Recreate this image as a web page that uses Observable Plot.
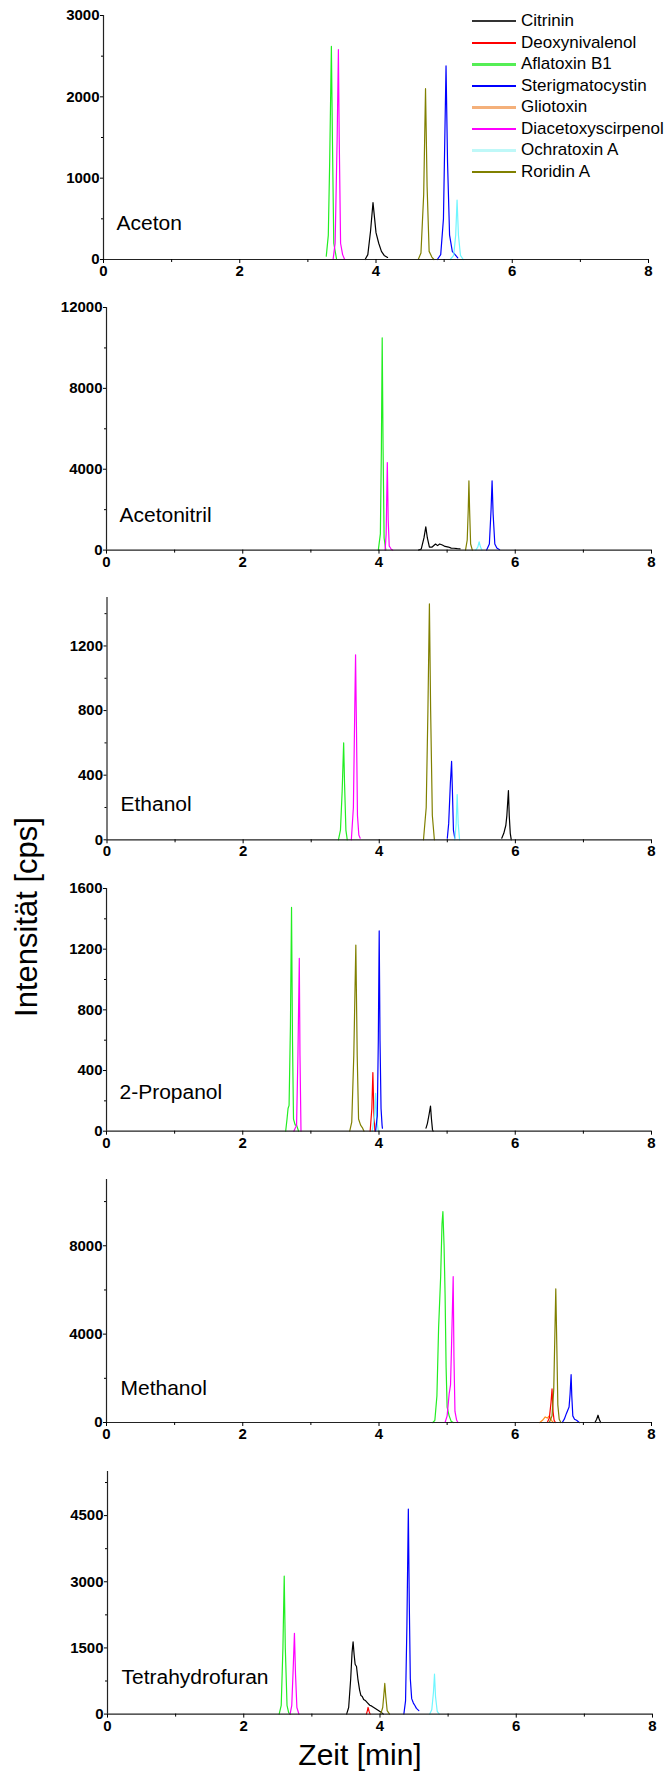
<!DOCTYPE html>
<html><head><meta charset="utf-8">
<script src="https://cdn.jsdelivr.net/npm/d3@7"></script>
<script src="https://cdn.jsdelivr.net/npm/@observablehq/plot@0.6"></script>
<style>
body{margin:0;background:#fff;}
#chart{position:relative;width:670px;height:1774px;font-family:"Liberation Sans",Arial,sans-serif;color:#000;overflow:hidden}
#chart svg{position:absolute;left:0;overflow:visible}
#chart svg g[aria-label$="tick label"] text{font-weight:bold}
.legrow{position:absolute;left:472px;height:20px;display:flex;align-items:center;font-size:17px;white-space:nowrap}
.legrow span.sw{display:inline-block;width:44px;margin-right:5px}
.ytitle{position:absolute;left:27px;top:917px;font-size:31px;line-height:36px;white-space:nowrap;transform:translate(-50%,-50%) rotate(-90deg)}
.xtitle{position:absolute;left:360px;top:1740px;font-size:30px;line-height:30px;white-space:nowrap;transform:translateX(-50%)}
</style></head>
<body><div id="chart"></div>
<script>
// ---- data ----
const compounds = ["Citrinin","Deoxynivalenol","Aflatoxin B1","Sterigmatocystin","Gliotoxin","Diacetoxyscirpenol","Ochratoxin A","Roridin A"];
const solvents = ["Aceton","Acetonitril","Ethanol","2-Propanol","Methanol","Tetrahydrofuran"];
const xTicks = [0,2,4,6,8];
const xMinorTicks = [1,3,5,7];
const yMax = [3000,12000,1500,1600,11000,5500];
const yTicks = [[0,1000,2000,3000],[0,4000,8000,12000],[0,400,800,1200],[0,400,800,1200,1600],[0,4000,8000],[0,1500,3000,4500]];
const yMinorTicks = [[500,1500,2500],[2000,6000,10000],[200,600,1000,1400],[200,600,1000,1400],[2000,6000,10000],[750,2250,3750,5250]];

// peaks: [compound, [[time (min), intensity (cps)], ...]]
const peaksAceton = [
  ["Aflatoxin B1", [[3.27,40],[3.30,300],[3.32,1200],[3.345,2620],[3.36,1500],[3.38,200],[3.42,10]]],
  ["Diacetoxyscirpenol", [[3.37,0],[3.40,200],[3.43,1500],[3.448,2580],[3.46,1500],[3.48,200],[3.51,60],[3.54,0]]],
  ["Citrinin", [[3.84,0],[3.88,60],[3.92,350],[3.956,700],[3.98,500],[4.0,330],[4.04,200],[4.08,100],[4.12,50],[4.17,25]]],
  ["Roridin A", [[4.62,0],[4.66,80],[4.70,800],[4.727,2100],[4.75,900],[4.78,100],[4.82,30],[4.85,0]]],
  ["Sterigmatocystin", [[4.90,0],[4.95,60],[4.99,500],[5.028,2380],[5.05,1200],[5.08,300],[5.12,100],[5.17,50],[5.20,20]]],
  ["Ochratoxin A", [[5.09,0],[5.14,50],[5.17,300],[5.19,730],[5.21,300],[5.24,50],[5.28,0]]]
];
const peaksAcetonitril = [
  ["Aflatoxin B1", [[3.99,0],[4.02,800],[4.035,5000],[4.047,10500],[4.06,5000],[4.075,600],[4.10,0]]],
  ["Diacetoxyscirpenol", [[4.09,0],[4.105,800],[4.122,4330],[4.135,1500],[4.15,200],[4.18,40],[4.20,0]]],
  ["Citrinin", [[4.58,0],[4.62,50],[4.66,600],[4.687,1150],[4.71,600],[4.74,150],[4.78,150],[4.83,300],[4.86,220],[4.89,300],[4.93,250],[4.97,180],[5.02,150],[5.06,100],[5.10,90],[5.15,70],[5.19,60]]],
  ["Roridin A", [[5.27,0],[5.295,500],[5.31,2000],[5.32,3430],[5.33,2000],[5.345,300],[5.37,0]]],
  ["Ochratoxin A", [[5.42,0],[5.45,150],[5.47,410],[5.49,150],[5.51,0]]],
  ["Sterigmatocystin", [[5.58,0],[5.62,300],[5.645,2000],[5.66,3430],[5.675,1800],[5.70,300],[5.73,100],[5.77,20]]]
];
const peaksEthanol = [
  ["Aflatoxin B1", [[3.40,0],[3.43,60],[3.455,300],[3.477,600],[3.49,350],[3.51,60],[3.53,0]]],
  ["Diacetoxyscirpenol", [[3.59,0],[3.62,200],[3.64,800],[3.652,1145],[3.665,700],[3.68,150],[3.70,30],[3.72,10]]],
  ["Roridin A", [[4.65,0],[4.69,200],[4.715,800],[4.737,1460],[4.755,800],[4.78,150],[4.81,0]]],
  ["Sterigmatocystin", [[5.00,10],[5.02,100],[5.045,350],[5.063,485],[5.075,300],[5.09,60],[5.11,10]]],
  ["Ochratoxin A", [[5.11,0],[5.13,100],[5.145,280],[5.16,100],[5.18,0]]],
  ["Citrinin", [[5.80,10],[5.83,40],[5.86,90],[5.875,150],[5.898,305],[5.91,150],[5.925,40],[5.94,0]]]
];
const peaksPropanol = [
  ["Aflatoxin B1", [[2.63,0],[2.65,80],[2.665,150],[2.68,170],[2.70,700],[2.716,1475],[2.73,600],[2.745,80],[2.77,40],[2.79,40],[2.82,0]]],
  ["Diacetoxyscirpenol", [[2.75,0],[2.79,40],[2.81,500],[2.83,1140],[2.84,500],[2.855,0]]],
  ["Roridin A", [[3.57,0],[3.60,60],[3.63,500],[3.66,1227],[3.68,500],[3.70,80],[3.73,40],[3.76,20],[3.78,0]]],
  ["Deoxynivalenol", [[3.87,0],[3.895,150],[3.91,387],[3.925,120],[3.94,0]]],
  ["Ochratoxin A", [[3.90,0],[3.935,100],[3.95,250],[3.965,80],[3.99,0]]],
  ["Sterigmatocystin", [[3.95,0],[3.975,100],[3.99,600],[4.003,1320],[4.015,600],[4.03,150],[4.045,40],[4.05,20]]],
  ["Citrinin", [[4.69,20],[4.71,50],[4.735,110],[4.756,165],[4.77,80],[4.785,10],[4.795,0]]]
];
const peaksMethanol = [
  ["Aflatoxin B1", [[4.79,0],[4.82,100],[4.85,1200],[4.875,4300],[4.905,6600],[4.925,9000],[4.938,9550],[4.955,8000],[4.97,5800],[4.985,2500],[5.00,700],[5.03,300],[5.06,50],[5.09,0]]],
  ["Diacetoxyscirpenol", [[4.97,0],[5.00,300],[5.03,1300],[5.05,1700],[5.065,3500],[5.089,6600],[5.10,3000],[5.115,500],[5.14,100],[5.16,0]]],
  ["Gliotoxin", [[6.36,0],[6.40,100],[6.44,250],[6.47,200],[6.50,300],[6.53,100],[6.56,0]]],
  ["Deoxynivalenol", [[6.47,0],[6.50,200],[6.525,900],[6.54,1520],[6.555,500],[6.57,100],[6.59,0]]],
  ["Roridin A", [[6.50,0],[6.54,300],[6.565,1500],[6.585,4500],[6.595,6050],[6.61,3500],[6.625,800],[6.645,150],[6.67,0]]],
  ["Sterigmatocystin", [[6.69,0],[6.72,150],[6.75,400],[6.79,700],[6.805,1300],[6.82,2165],[6.83,1200],[6.845,300],[6.87,150],[6.90,100],[6.94,0]]],
  ["Citrinin", [[7.17,0],[7.195,150],[7.215,330],[7.235,120],[7.255,0]]]
];
const peaksTHF = [
  ["Aflatoxin B1", [[2.52,0],[2.55,200],[2.575,1500],[2.594,3130],[2.61,1500],[2.635,200],[2.66,30],[2.68,0]]],
  ["Diacetoxyscirpenol", [[2.68,0],[2.705,200],[2.725,1000],[2.744,1830],[2.76,900],[2.78,150],[2.81,0]]],
  ["Citrinin", [[3.51,0],[3.54,150],[3.57,800],[3.59,1400],[3.605,1640],[3.62,1350],[3.635,1130],[3.655,1080],[3.675,800],[3.70,550],[3.72,420],[3.74,400],[3.76,330],[3.79,300],[3.82,250],[3.85,200],[3.88,180],[3.92,140],[3.96,100],[4.01,50],[4.05,0]]],
  ["Deoxynivalenol", [[3.80,0],[3.815,80],[3.825,150],[3.84,60],[3.855,0]]],
  ["Roridin A", [[4.01,0],[4.04,150],[4.06,500],[4.07,695],[4.085,400],[4.105,80],[4.14,0]]],
  ["Sterigmatocystin", [[4.35,0],[4.375,300],[4.395,2000],[4.416,4650],[4.43,2500],[4.445,800],[4.465,350],[4.49,250],[4.51,200],[4.535,130],[4.57,80]]],
  ["Ochratoxin A", [[4.73,0],[4.76,100],[4.785,500],[4.80,905],[4.815,400],[4.84,60],[4.87,0]]]
];
const panelPeaks = [peaksAceton, peaksAcetonitril, peaksEthanol, peaksPropanol, peaksMethanol, peaksTHF];

// ---- styles / layout ----
const colors = ["#000000","#ff0000","#22ee22","#0000ff","#ff8c1a","#ff00ff","#6ff6ff","#808000"];
const legendWidths = [2,2,3,2,3.5,2,3.5,2];
const legendColors = ["#333333","#ff0000","#55ee55","#0000ff","#f4b07a","#ff00ff","#bff8f8","#808000"];
const layout = [
  {top:15,    zero:259,    left:103,   right:648, labelX:116, labelY:229},
  {top:306.7, zero:549.3,  left:106,   right:651, labelX:119, labelY:521},
  {top:597,   zero:839.3,  left:106.5, right:651, labelX:120, labelY:811},
  {top:888.3, zero:1131,   left:106,   right:651, labelX:119, labelY:1099},
  {top:1179,  zero:1422,   left:106,   right:651, labelX:120, labelY:1394},
  {top:1470.7,zero:1713.3, left:107,   right:652, labelX:121, labelY:1683}
];
const FONT = '"Liberation Sans", Arial, sans-serif';
const chart = document.getElementById("chart");

panelPeaks.forEach((peaks, i) => {
  const L = layout[i];
  const rows = [];
  peaks.forEach(([c, pts], k) => pts.forEach(([t, v]) => rows.push({compound: c, seg: k, t, v})));
  const mt = 15, mb = 30;
  const svg = Plot.plot({
    width: 670,
    height: (L.zero - L.top) + mt + mb,
    marginTop: mt, marginBottom: mb, marginLeft: L.left, marginRight: 670 - L.right,
    x: {domain: [0, 8], label: null},
    y: {domain: [0, yMax[i]], label: null},
    color: {domain: compounds, range: colors},
    style: {fontFamily: FONT, fontSize: "15px", color: "#000", background: "transparent"},
    marks: [
      Plot.line(rows, {x: "t", y: "v", z: "seg", stroke: "compound", strokeWidth: 1.2, curve: "linear"}),
      Plot.ruleY([0], {stroke: "#222", strokeWidth: 1.2}),
      Plot.ruleX([0], {stroke: "#222", strokeWidth: 1.2}),
      Plot.axisX({ticks: xTicks, tickSize: 4, tickPadding: 2, fontWeight: "bold", fontSize: 15, label: null, tickFormat: d3.format("d")}),
      Plot.axisX({ticks: xMinorTicks, tickSize: 3, label: null, tickFormat: () => ""}),
      Plot.axisY({ticks: yTicks[i], tickSize: 3, tickPadding: 1, fontWeight: "bold", fontSize: 15, label: null, tickFormat: d3.format("d")}),
      Plot.axisY({ticks: yMinorTicks[i], tickSize: 2, label: null, tickFormat: () => ""}),
      Plot.text([solvents[i]], {frameAnchor: "bottom-left", dx: L.labelX - L.left, dy: L.labelY - L.zero, textAnchor: "start", lineAnchor: "bottom", fontSize: 21, fontWeight: "normal", fill: "#000"})
    ]
  });
  svg.style.top = (L.top - mt) + "px";
  chart.appendChild(svg);
});

// legend
compounds.forEach((c, k) => {
  const row = document.createElement("div");
  row.className = "legrow";
  row.style.top = (21 + 21.5 * k - 10) + "px";
  const sw = document.createElement("span");
  sw.className = "sw";
  sw.style.borderTop = legendWidths[k] + "px solid " + legendColors[k];
  row.appendChild(sw);
  const tx = document.createElement("span");
  tx.textContent = c;
  row.appendChild(tx);
  chart.appendChild(row);
});

const yt = document.createElement("div");
yt.className = "ytitle"; yt.textContent = "Intensität [cps]";
chart.appendChild(yt);
const xt = document.createElement("div");
xt.className = "xtitle"; xt.textContent = "Zeit [min]";
chart.appendChild(xt);
</script>
</body></html>
